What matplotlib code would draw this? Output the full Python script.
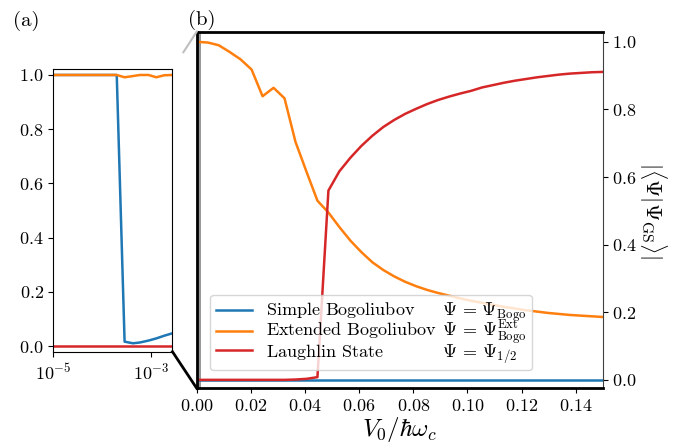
import numpy as np
import matplotlib

matplotlib.use("Agg")
import matplotlib.pyplot as plt
from matplotlib.lines import Line2D
from matplotlib.ticker import NullLocator

plt.rcParams["font.family"] = "serif"
plt.rcParams["font.serif"] = ["cmr10"]
plt.rcParams["mathtext.fontset"] = "cm"
plt.rcParams["axes.formatter.use_mathtext"] = True
plt.rcParams["axes.unicode_minus"] = False

# panel (b): linear V0 grid
v0_b = np.linspace(0, 0.15, 38)
simple_b = [0.0] * 38
extended_b = [1.000, 0.998, 0.990, 0.970, 0.948, 0.918, 0.839, 0.864, 0.833, 0.704,
              0.616, 0.530, 0.495, 0.452, 0.412, 0.378, 0.348, 0.325, 0.306, 0.290,
              0.277, 0.266, 0.257, 0.249, 0.241, 0.234, 0.228, 0.222, 0.216, 0.211,
              0.206, 0.202, 0.198, 0.195, 0.192, 0.190, 0.188, 0.186]
laughlin_b = [0.0, 0.0, 0.0, 0.0, 0.0, 0.0, 0.0, 0.0, 0.0, 0.001,
              0.003, 0.008, 0.560, 0.617, 0.657, 0.692, 0.722, 0.748, 0.769, 0.787,
              0.802, 0.816, 0.828, 0.838, 0.847, 0.855, 0.865, 0.872, 0.879, 0.885,
              0.890, 0.895, 0.899, 0.903, 0.906, 0.908, 0.910, 0.911]

# panel (a): small V0 on log axis
v0_a = [1e-5, 3e-5, 1e-4, 2.0e-4, 2.9e-4, 4.3e-4, 6.0e-4, 9.0e-4, 1.3e-3, 1.9e-3, 2.8e-3]
simple_a = [1.0, 1.0, 1.0, 1.0, 0.016, 0.010, 0.013, 0.020, 0.028, 0.038, 0.047]
extended_a = [1.0, 1.0, 1.0, 1.0, 0.9915, 0.996, 1.0, 1.0, 0.9915, 0.999, 1.0]
laughlin_a = [0.0] * 11

names = ["Simple Bogoliubov", "Extended Bogoliubov", "Laughlin State"]
states = [r"\Psi \,=\, \Psi_{\rm Bogo}", r"\Psi \,=\, \Psi^{\rm Ext}_{\rm Bogo}",
          r"\Psi \,=\, \Psi_{1/2}"]
colors = ["tab:blue", "tab:orange", "tab:red"]

fig = plt.figure(figsize=(6.91, 4.47), dpi=100)
ax_a = fig.add_axes([0.0774, 0.2132, 0.1722, 0.6324])
ax_b = fig.add_axes([0.2847, 0.1313, 0.5876, 0.7978])

for ys, c in zip([simple_a, extended_a, laughlin_a], colors):
    ax_a.plot(v0_a, ys, color=c, lw=1.8)
ax_a.set_xscale("log")
ax_a.set_xlim(1e-5, 2.8e-3)
ax_a.set_ylim(-0.021, 1.022)
ax_a.set_xticks([1e-5, 1e-3])
ax_a.xaxis.set_minor_locator(NullLocator())
ax_a.set_yticks(np.arange(0, 1.01, 0.2))
ax_a.tick_params(labelsize=13)

lines = []
for ys, c in zip([simple_b, extended_b, laughlin_b], colors):
    (ln,) = ax_b.plot(v0_b, ys, color=c, lw=1.8)
    lines.append(ln)
ax_b.axvspan(0, 0.0014, color="0.6", lw=0, zorder=0.5)
ax_b.set_xlim(0, 0.15)
ax_b.set_ylim(-0.025, 1.03)
ax_b.set_xticks(np.arange(0, 0.141, 0.02))
ax_b.set_yticks(np.arange(0, 1.01, 0.2))
ax_b.yaxis.tick_right()
ax_b.yaxis.set_label_position("right")
ax_b.tick_params(labelsize=13)
for side in ["top", "bottom", "left"]:
    ax_b.spines[side].set_linewidth(2)
ax_b.spines["right"].set_color("0.25")
ax_b.set_xlabel(r"$V_0/\hbar\omega_c$", fontsize=18, labelpad=1)
ax_b.set_ylabel(r"$|\langle \Psi | \Psi_{\rm GS} \rangle|$", fontsize=16, rotation=270, labelpad=23)

# align the state column of the legend by padding with \hspace
renderer = fig.canvas.get_renderer()


def text_width(s):
    t = fig.text(0, 0, s, fontsize=13)
    w = t.get_window_extent(renderer).width
    t.remove()
    return w


em = text_width(r"$a\hspace{1}a$") - text_width(r"$aa$")
widths = [text_width(n) for n in names]
labels = []
for n, w, s in zip(names, widths, states):
    pad = (max(widths) - w) / em + 0.45
    labels.append(n + r"$\hspace{%.3f}" % pad + s + "$")
ax_b.legend(lines, labels, fontsize=13, loc="lower left", handlelength=2.0,
            labelspacing=-0.3, borderpad=0.3,
            bbox_to_anchor=(0.033, 0.051), borderaxespad=0)

# zoom connectors between panels
p0 = fig.transFigure.inverted().transform(ax_a.transAxes.transform((1, 1)))
p1 = fig.transFigure.inverted().transform(ax_b.transAxes.transform((0, 1)))
q0 = fig.transFigure.inverted().transform(ax_a.transAxes.transform((1, 0)))
q1 = fig.transFigure.inverted().transform(ax_b.transAxes.transform((0, 0)))
start = p0 + 0.45 * (p1 - p0)
fig.add_artist(Line2D([start[0], p1[0]], [start[1], p1[1]], color="0.75", lw=1.5,
                      transform=fig.transFigure))
fig.add_artist(Line2D([q0[0], q1[0]], [q0[1], q1[1]], color="black", lw=2,
                      transform=fig.transFigure))

fig.text(13 / 691, 1 - 26 / 447, "(a)", fontsize=15)
fig.text(188 / 691, 1 - 25 / 447, "(b)", fontsize=15)

fig.savefig("out.png", dpi=100)
